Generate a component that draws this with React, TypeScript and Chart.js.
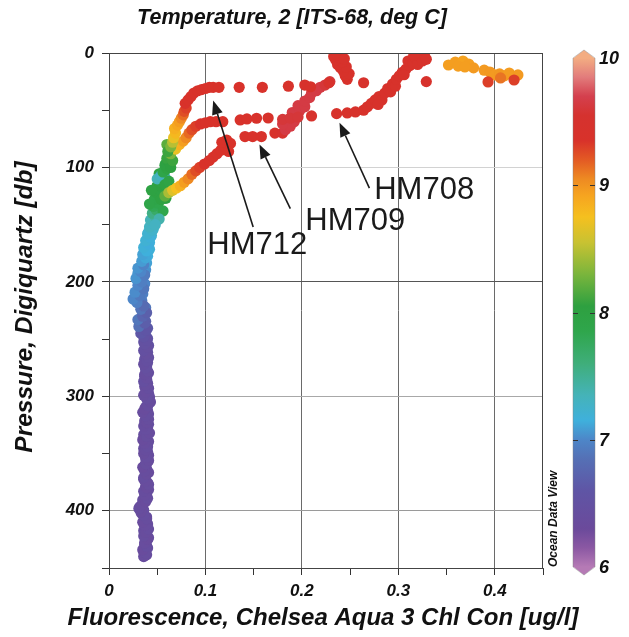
import { useEffect, useRef } from "react";
import { Chart, registerables } from "chart.js";

Chart.register(...registerables);

// ---------- axis ticks ----------
const xMajorTicks = [0, 0.1, 0.2, 0.3, 0.4];
const xTickLabels = ["0", "0.1", "0.2", "0.3", "0.4"];
const xMinorTicks = [0.05, 0.15, 0.25, 0.35, 0.45];
const yMajorTicks = [0, 100, 200, 300, 400];
const yTickLabels = ["0", "100", "200", "300", "400"];
const yMinorTicks = [50, 150, 250, 350, 450];
const colorbarTicks = [6, 7, 8, 9, 10];
const colorbarLabels = ["6", "7", "8", "9", "10"];

// ---------- deep profile, first pass ----------
const deepPressure = [
  440, 437, 434, 431, 428, 425, 422, 419, 416, 413, 410, 407, 404, 401, 398, 395, 392, 389, 386, 383,
  380, 377, 374, 371, 368, 365, 362, 359, 356, 353, 350, 347, 344, 341, 338, 335, 332, 329, 326, 323,
  320, 317, 314, 311, 308, 305, 302, 299, 296, 293, 290, 287, 284, 281, 278, 275, 272, 269, 266, 263,
  260, 257, 254, 251, 248, 245, 242, 239, 236, 233, 230, 227, 224, 221, 218, 215, 212, 209, 206, 203,
  200, 197, 194, 191, 188, 185, 182, 179, 176, 173, 170, 167, 164, 161, 158, 155, 152, 149, 146, 143,
  140, 137, 134, 131, 128, 125, 122, 119, 116, 113, 110, 107, 104, 101, 98, 95, 92, 89,
  132, 138, 120, 115, 127, 145, 150, 112, 100, 94, 86, 83, 80,
];
const deepFluor = [
  0.036, 0.038, 0.035, 0.039, 0.037, 0.04, 0.036, 0.038, 0.041, 0.037, 0.035, 0.039, 0.036, 0.033, 0.031, 0.034, 0.038, 0.04, 0.037, 0.036,
  0.039, 0.041, 0.038, 0.036, 0.039, 0.037, 0.035, 0.038, 0.041, 0.039, 0.036, 0.038, 0.04, 0.037, 0.035, 0.039, 0.042, 0.038, 0.036, 0.039,
  0.041, 0.038, 0.035, 0.037, 0.04, 0.043, 0.039, 0.036, 0.038, 0.041, 0.038, 0.036, 0.039, 0.037, 0.04, 0.038, 0.036, 0.039, 0.041, 0.038,
  0.036, 0.04, 0.037, 0.039, 0.036, 0.033, 0.038, 0.031, 0.037, 0.03, 0.035, 0.039, 0.033, 0.036, 0.029, 0.025, 0.032, 0.027, 0.036, 0.03,
  0.034, 0.028, 0.037, 0.033, 0.03, 0.036, 0.034, 0.038, 0.035, 0.039, 0.036, 0.041, 0.038, 0.043, 0.04, 0.045, 0.042, 0.046, 0.043, 0.048,
  0.045, 0.049, 0.046, 0.05, 0.047, 0.052, 0.049, 0.053, 0.05, 0.055, 0.05, 0.054, 0.056, 0.06, 0.058, 0.062, 0.06, 0.063,
  0.042, 0.056, 0.044, 0.058, 0.059, 0.052, 0.048, 0.062, 0.064, 0.066, 0.064, 0.062, 0.06,
];
const deepTemp = [
  6.38, 6.4, 6.36, 6.42, 6.38, 6.35, 6.4, 6.37, 6.41, 6.38, 6.36, 6.39, 6.42, 6.37, 6.4, 6.38, 6.36, 6.41, 6.38, 6.39,
  6.36, 6.4, 6.38, 6.42, 6.37, 6.39, 6.36, 6.4, 6.38, 6.41, 6.37, 6.39, 6.42, 6.38, 6.36, 6.4, 6.38, 6.41, 6.39, 6.37,
  6.4, 6.42, 6.38, 6.36, 6.41, 6.39, 6.43, 6.4, 6.38, 6.42, 6.4, 6.44, 6.41, 6.39, 6.43, 6.45, 6.42, 6.44, 6.46, 6.43,
  6.47, 6.45, 6.48, 6.5, 6.55, 6.62, 6.6, 6.85, 6.68, 6.9, 6.75, 6.7, 6.88, 6.8, 6.95, 7.0, 6.92, 7.02, 6.9, 7.0,
  6.95, 7.05, 6.93, 7.0, 7.05, 6.98, 7.08, 7.12, 7.1, 7.15, 7.18, 7.14, 7.2, 7.17, 7.22, 7.25, 7.3, 7.28, 7.35, 7.45,
  7.55, 7.7, 7.8, 7.85, 7.9, 7.95, 8.0, 7.98, 8.02, 7.95, 7.35, 7.3, 7.9, 8.0, 8.02, 8.05, 8.08, 8.1,
  7.9, 7.85, 8.0, 8.0, 8.05, 7.4, 7.3, 7.95, 8.05, 8.1, 8.12, 8.15, 8.2,
];

// ---------- deep profile, second pass ----------
const deep2Pressure = [
  438.5, 435.5, 432.5, 429.5, 426.5, 423.5, 420.5, 417.5, 414.5, 411.5, 408.5, 405.5, 402.5, 399.5, 396.5, 393.5, 390.5, 387.5, 384.5, 381.5,
  378.5, 375.5, 372.5, 369.5, 366.5, 363.5, 360.5, 357.5, 354.5, 351.5, 348.5, 345.5, 342.5, 339.5, 336.5, 333.5, 330.5, 327.5, 324.5, 321.5,
  318.5, 315.5, 312.5, 309.5, 306.5, 303.5, 300.5, 297.5, 294.5, 291.5, 288.5, 285.5, 282.5, 279.5, 276.5, 273.5, 270.5, 267.5, 264.5, 261.5,
  258.5, 255.5, 252.5, 249.5, 246.5, 243.5, 240.5, 237.5, 234.5, 231.5, 228.5, 225.5, 222.5, 219.5, 216.5, 213.5, 210.5, 207.5, 204.5, 201.5,
  198.5, 195.5, 192.5, 189.5, 186.5, 183.5, 180.5, 177.5, 174.5, 171.5, 168.5, 165.5, 162.5, 159.5, 156.5, 153.5, 150.5, 147.5, 144.5, 141.5,
  138.5, 135.5, 132.5, 129.5, 126.5, 123.5, 120.5, 117.5, 114.5, 111.5, 108.5, 105.5, 102.5, 99.5, 96.5, 93.5, 90.5,
];
const deep2Fluor = [
  0.039, 0.036, 0.04, 0.037, 0.039, 0.041, 0.039, 0.036, 0.038, 0.04, 0.037, 0.039, 0.034, 0.036, 0.032, 0.036, 0.035, 0.038, 0.039, 0.041,
  0.038, 0.04, 0.036, 0.038, 0.041, 0.039, 0.037, 0.04, 0.038, 0.041, 0.04, 0.036, 0.038, 0.041, 0.038, 0.036, 0.039, 0.04, 0.041, 0.037,
  0.039, 0.041, 0.04, 0.038, 0.041, 0.04, 0.042, 0.041, 0.04, 0.037, 0.04, 0.039, 0.037, 0.041, 0.038, 0.039, 0.04, 0.037, 0.039, 0.04,
  0.038, 0.041, 0.036, 0.04, 0.038, 0.035, 0.04, 0.034, 0.038, 0.033, 0.037, 0.035, 0.038, 0.032, 0.034, 0.029, 0.035, 0.031, 0.033, 0.037,
  0.032, 0.035, 0.03, 0.038, 0.035, 0.039, 0.037, 0.04, 0.038, 0.042, 0.039, 0.042, 0.04, 0.044, 0.041, 0.046, 0.044, 0.047, 0.045, 0.05,
  0.047, 0.051, 0.048, 0.052, 0.05, 0.054, 0.052, 0.056, 0.053, 0.057, 0.058, 0.052, 0.058, 0.061, 0.059, 0.063, 0.062,
];
const deep2Temp = [
  6.39, 6.37, 6.41, 6.38, 6.36, 6.4, 6.38, 6.42, 6.37, 6.39, 6.38, 6.4, 6.37, 6.41, 6.39, 6.36, 6.4, 6.38, 6.42, 6.39,
  6.37, 6.41, 6.38, 6.4, 6.36, 6.39, 6.41, 6.38, 6.4, 6.37, 6.39, 6.42, 6.38, 6.4, 6.37, 6.41, 6.39, 6.38, 6.42, 6.4,
  6.37, 6.41, 6.39, 6.43, 6.4, 6.38, 6.42, 6.41, 6.44, 6.4, 6.42, 6.45, 6.43, 6.41, 6.44, 6.46, 6.44, 6.47, 6.45, 6.48,
  6.47, 6.5, 6.52, 6.58, 6.6, 6.7, 6.65, 6.78, 6.72, 6.85, 6.8, 6.86, 6.9, 6.95, 6.92, 7.0, 6.96, 7.02, 6.98, 7.0,
  7.03, 7.0, 7.06, 7.04, 7.08, 7.1, 7.12, 7.15, 7.13, 7.18, 7.2, 7.16, 7.22, 7.24, 7.28, 7.3, 7.35, 7.4, 7.5, 7.6,
  7.75, 7.82, 7.88, 7.92, 7.96, 8.0, 8.02, 7.98, 8.03, 8.0, 7.3, 8.0, 8.02, 8.05, 8.06, 8.08, 8.1,
];

// ---------- HM712 (upper branch) ----------
const hm712Pressure = [
  86, 82, 78, 74, 70, 66, 63, 60, 57, 54, 51, 48, 44, 41, 38, 35, 33, 32, 31, 30,
  30, 30, 30, 30, 29, 28, 29.5, 26, 23, 20, 18, 16, 13, 12, 10, 8, 6, 4, 3, 1.5, 5,
];
const hm712Fluor = [
  0.061, 0.064, 0.066, 0.067, 0.069, 0.068, 0.071, 0.073, 0.075, 0.077, 0.078, 0.08, 0.079, 0.082, 0.085, 0.088, 0.092, 0.096, 0.1, 0.104,
  0.108, 0.114, 0.135, 0.159, 0.186, 0.203, 0.209, 0.228, 0.247, 0.245, 0.249, 0.243, 0.24, 0.246, 0.237, 0.242, 0.235, 0.239, 0.233, 0.237, 0.244,
];
const hm712Temp = [
  8.1, 8.3, 8.5, 8.7, 8.8, 8.85, 8.9, 8.95, 9.05, 9.15, 9.25, 9.3, 9.35, 9.35, 9.35, 9.35, 9.35, 9.35, 9.35, 9.35,
  9.35, 9.35, 9.38, 9.38, 9.4, 9.4, 9.4, 9.45, 9.4, 9.4, 9.4, 9.4, 9.4, 9.4, 9.4, 9.4, 9.4, 9.4, 9.4, 9.4, 9.4,
];

// ---------- HM709 (lower branch) ----------
const hm709Pressure = [
  128, 125, 122, 120, 118, 116, 113, 110, 106, 103, 100, 97, 94, 91, 88, 85, 82, 78, 76, 79,
  86, 73, 73, 73, 70, 70, 67, 64, 62, 60, 58, 55, 52, 50, 46, 47, 42, 39, 35, 33,
  30, 28, 25, 10.5, 8, 7, 9.6, 13, 11.4, 12.2, 15, 16.6, 19.2, 18.3, 20, 17.5, 19.2, 21.8, 25.3, 23.6,
];
const hm709Fluor = [
  0.054, 0.058, 0.062, 0.066, 0.07, 0.074, 0.078, 0.082, 0.086, 0.09, 0.094, 0.099, 0.104, 0.108, 0.112, 0.116, 0.12, 0.117, 0.122, 0.126,
  0.124, 0.141, 0.149, 0.158, 0.172, 0.18, 0.183, 0.188, 0.18, 0.192, 0.186, 0.195, 0.19, 0.198, 0.196, 0.203, 0.203, 0.208, 0.21, 0.215,
  0.219, 0.224, 0.229, 0.352, 0.359, 0.367, 0.373, 0.378, 0.362, 0.369, 0.389, 0.395, 0.4, 0.405, 0.41, 0.415, 0.424, 0.406, 0.393, 0.42,
];
const hm709Temp = [
  8.0, 8.2, 8.45, 8.65, 8.75, 8.85, 8.95, 9.05, 9.15, 9.25, 9.3, 9.35, 9.35, 9.35, 9.35, 9.35, 9.35, 9.35, 9.35, 9.35,
  9.35, 9.38, 9.38, 9.38, 9.4, 9.5, 9.65, 9.65, 9.65, 9.65, 9.65, 9.65, 9.65, 9.65, 9.65, 9.65, 9.65, 9.65, 9.65, 9.65,
  9.65, 9.6, 9.6, 8.95, 8.95, 8.93, 8.95, 8.97, 8.95, 8.95, 8.97, 8.98, 8.97, 8.98, 8.97, 8.96, 8.97, 9.12, 9.3, 9.3,
];

// ---------- HM708 (middle branch) ----------
const hm708Pressure = [
  88, 84, 80, 77, 74, 70, 67, 64, 62, 61, 60, 60, 60, 58.5, 57.6, 57, 56.8, 58, 57, 56,
  55, 53, 52.4, 51.5, 50, 47, 44, 41, 38, 41, 35, 45, 31, 34, 27, 29, 23, 20, 17, 14,
  19, 11, 7, 9, 5, 10, 3, 7, 2, 5.5, 2, 26, 25,
];
const hm708Fluor = [
  0.064, 0.069, 0.073, 0.077, 0.08, 0.083, 0.086, 0.09, 0.095, 0.1, 0.105, 0.111, 0.118, 0.136, 0.143, 0.153, 0.165, 0.18, 0.188, 0.196,
  0.21, 0.236, 0.247, 0.2555, 0.264, 0.268, 0.272, 0.276, 0.28, 0.283, 0.286, 0.279, 0.289, 0.292, 0.294, 0.297, 0.298, 0.301, 0.304, 0.308,
  0.306, 0.312, 0.31, 0.315, 0.318, 0.32, 0.322, 0.325, 0.327, 0.329, 0.316, 0.264, 0.329,
];
const hm708Temp = [
  8.3, 8.7, 8.85, 8.95, 9.05, 9.15, 9.25, 9.3, 9.35, 9.35, 9.35, 9.35, 9.35, 9.38, 9.38, 9.38, 9.4, 9.6, 9.6, 9.6,
  9.45, 9.4, 9.4, 9.4, 9.4, 9.4, 9.4, 9.4, 9.4, 9.4, 9.4, 9.4, 9.4, 9.4, 9.4, 9.4, 9.4, 9.4, 9.4, 9.4,
  9.4, 9.4, 9.4, 9.4, 9.4, 9.4, 9.4, 9.4, 9.4, 9.4, 9.4, 9.45, 9.45,
];

// ---------- annotations (data coordinates) ----------
const annotationLabels = ["HM712", "HM709", "HM708"];
const labelFluor = [0.102, 0.2035, 0.275];
const labelPressure = [176, 154.6, 127.5];
const arrowTipFluor = [0.108, 0.156, 0.239];
const arrowTipPressure = [41.5, 80, 61];
const arrowTailFluor = [0.1495, 0.188, 0.27];
const arrowTailPressure = [152, 136, 118];

// ---------- colour map (ODV style) ----------
const cmapStops: [number, string][] = [
  [6.0, "#b57ab5"],
  [6.15, "#8b58a3"],
  [6.3, "#6b4a9b"],
  [6.6, "#5f55a5"],
  [6.85, "#5570b5"],
  [7.0, "#4d86c8"],
  [7.15, "#3fb0dc"],
  [7.35, "#45b3b8"],
  [7.6, "#3fae7a"],
  [7.85, "#2fa64c"],
  [8.05, "#2ea040"],
  [8.3, "#7ab53c"],
  [8.55, "#c8c232"],
  [8.75, "#f5c01f"],
  [8.92, "#f6a420"],
  [9.05, "#ee8a22"],
  [9.2, "#e35a24"],
  [9.35, "#d8322a"],
  [9.55, "#d5322f"],
  [9.7, "#d4404e"],
  [9.85, "#e27c7c"],
  [10.0, "#f3ad82"],
];

function hexToRgb(h: string) {
  const n = parseInt(h.slice(1), 16);
  return [(n >> 16) & 255, (n >> 8) & 255, n & 255];
}

function tempColor(t: number) {
  const s = cmapStops;
  if (t <= s[0][0]) return s[0][1];
  if (t >= s[s.length - 1][0]) return s[s.length - 1][1];
  for (let i = 0; i < s.length - 1; i++) {
    const [t0, c0] = s[i];
    const [t1, c1] = s[i + 1];
    if (t >= t0 && t <= t1) {
      const f = (t - t0) / (t1 - t0);
      const a = hexToRgb(c0);
      const b = hexToRgb(c1);
      const r = a.map((v, k) => Math.round(v + (b[k] - v) * f));
      return `rgb(${r[0]},${r[1]},${r[2]})`;
    }
  }
  return s[0][1];
}

const FONT = "'Liberation Sans', Arial, Helvetica, sans-serif";

function buildDataset(name: string, pres: number[], fluor: number[], temp: number[]) {
  const n = Math.min(pres.length, fluor.length, temp.length);
  const data = [];
  const colors = [];
  for (let i = 0; i < n; i++) {
    data.push({ x: fluor[i], y: pres[i] });
    colors.push(tempColor(temp[i]));
  }
  return {
    label: name,
    data,
    backgroundColor: colors,
    borderColor: colors,
    borderWidth: 0,
    pointRadius: 5.6,
    pointHoverRadius: 5.6,
    clip: 0,
  };
}

const isNear = (a: number, b: number) => Math.abs(a - b) < 1e-6;

const framePlugin = {
  id: "frame",
  afterDatasetsDraw(chart: any) {
    const { ctx, chartArea } = chart;
    ctx.save();
    ctx.strokeStyle = "#444";
    ctx.lineWidth = 1;
    ctx.strokeRect(chartArea.left + 0.5, chartArea.top + 0.5, chartArea.right - chartArea.left - 1, chartArea.bottom - chartArea.top);
    ctx.restore();
  },
};

const annotationPlugin = {
  id: "annotations",
  afterDatasetsDraw(chart: any) {
    const { ctx } = chart;
    const xs = chart.scales.x;
    const ys = chart.scales.y;
    ctx.save();
    ctx.strokeStyle = "#1a1a1a";
    ctx.fillStyle = "#1a1a1a";
    ctx.lineWidth = 1.6;
    for (let i = 0; i < annotationLabels.length; i++) {
      const x0 = xs.getPixelForValue(arrowTailFluor[i]);
      const y0 = ys.getPixelForValue(arrowTailPressure[i]);
      const x1 = xs.getPixelForValue(arrowTipFluor[i]);
      const y1 = ys.getPixelForValue(arrowTipPressure[i]);
      const ang = Math.atan2(y1 - y0, x1 - x0);
      const headLen = 14;
      const headHalf = 5.5;
      const bx = x1 - headLen * Math.cos(ang);
      const by = y1 - headLen * Math.sin(ang);
      ctx.beginPath();
      ctx.moveTo(x0, y0);
      ctx.lineTo(bx, by);
      ctx.stroke();
      ctx.beginPath();
      ctx.moveTo(x1, y1);
      ctx.lineTo(bx + headHalf * Math.sin(ang), by - headHalf * Math.cos(ang));
      ctx.lineTo(bx - headHalf * Math.sin(ang), by + headHalf * Math.cos(ang));
      ctx.closePath();
      ctx.fill();
      ctx.font = `31px ${FONT}`;
      ctx.textAlign = "left";
      ctx.textBaseline = "alphabetic";
      ctx.fillText(annotationLabels[i], xs.getPixelForValue(labelFluor[i]), ys.getPixelForValue(labelPressure[i]));
    }
    ctx.restore();
  },
};

const decorPlugin = {
  id: "decor",
  afterDraw(chart: any) {
    const { ctx, chartArea } = chart;
    ctx.save();
    ctx.fillStyle = "#111";
    // top title
    ctx.font = `italic bold 21.5px ${FONT}`;
    ctx.textAlign = "center";
    ctx.textBaseline = "middle";
    ctx.fillText("Temperature, 2 [ITS-68, deg C]", 292, 18);
    // x title
    ctx.font = `italic bold 24px ${FONT}`;
    ctx.fillText("Fluorescence, Chelsea Aqua 3 Chl Con [ug/l]", (chartArea.left + chartArea.right) / 2 - 3, 618);
    // y title
    ctx.save();
    ctx.translate(25, 307);
    ctx.rotate(-Math.PI / 2);
    ctx.font = `italic bold 24.5px ${FONT}`;
    ctx.fillText("Pressure, Digiquartz [db]", 0, 0);
    ctx.restore();

    // colour bar
    const bx0 = 573;
    const bx1 = 595;
    const yTop = 58;
    const yBot = 567;
    const tip = 8;
    const vMin = 6;
    const vMax = 10;
    const vy = (v: number) => yTop + ((vMax - v) / (vMax - vMin)) * (yBot - yTop);
    const grad = ctx.createLinearGradient(0, yTop, 0, yBot);
    for (const [t, c] of cmapStops) {
      grad.addColorStop((vMax - t) / (vMax - vMin), c);
    }
    ctx.fillStyle = grad;
    ctx.fillRect(bx0, yTop, bx1 - bx0, yBot - yTop);
    // end triangles
    ctx.fillStyle = cmapStops[cmapStops.length - 1][1];
    ctx.beginPath();
    ctx.moveTo(bx0, yTop + 0.5);
    ctx.lineTo((bx0 + bx1) / 2, yTop - tip);
    ctx.lineTo(bx1, yTop + 0.5);
    ctx.closePath();
    ctx.fill();
    ctx.fillStyle = cmapStops[0][1];
    ctx.beginPath();
    ctx.moveTo(bx0, yBot - 0.5);
    ctx.lineTo((bx0 + bx1) / 2, yBot + tip);
    ctx.lineTo(bx1, yBot - 0.5);
    ctx.closePath();
    ctx.fill();
    // outline
    ctx.strokeStyle = "rgba(130,130,130,0.55)";
    ctx.lineWidth = 0.8;
    ctx.beginPath();
    ctx.moveTo(bx0, yBot);
    ctx.lineTo(bx0, yTop);
    ctx.lineTo((bx0 + bx1) / 2, yTop - tip);
    ctx.lineTo(bx1, yTop);
    ctx.lineTo(bx1, yBot);
    ctx.lineTo((bx0 + bx1) / 2, yBot + tip);
    ctx.closePath();
    ctx.stroke();
    // ticks & labels
    ctx.fillStyle = "#111";
    ctx.font = `italic bold 18px ${FONT}`;
    ctx.textAlign = "left";
    ctx.textBaseline = "middle";
    ctx.strokeStyle = "#333";
    ctx.lineWidth = 1;
    for (let i = 0; i < colorbarTicks.length; i++) {
      const y = Math.round(vy(colorbarTicks[i])) + 0.5;
      if (colorbarTicks[i] > vMin && colorbarTicks[i] < vMax) {
        ctx.beginPath();
        ctx.moveTo(bx0, y);
        ctx.lineTo(bx0 + 5, y);
        ctx.moveTo(bx1 - 5, y);
        ctx.lineTo(bx1, y);
        ctx.stroke();
      }
      ctx.fillText(colorbarLabels[i], bx1 + 4, y + 1);
    }
    // ODV credit
    ctx.save();
    ctx.translate(554, 567);
    ctx.rotate(-Math.PI / 2);
    ctx.font = `italic bold 12px ${FONT}`;
    ctx.textAlign = "left";
    ctx.textBaseline = "middle";
    ctx.fillText("Ocean Data View", 0, 0);
    ctx.restore();

    ctx.restore();
  },
};

export default function App() {
  const ref = useRef<HTMLCanvasElement | null>(null);

  useEffect(() => {
    if (!ref.current) return;
    const tickFont = { family: FONT, size: 17, weight: "bold" as const, style: "italic" as const };
    const yGridColors: Record<number, string> = { 100: "#d2d2d2", 200: "#555", 300: "#a8a8a8", 400: "#9a9a9a" };

    const chart = new Chart(ref.current, {
      type: "scatter",
      data: {
        datasets: [
          buildDataset("HM712", hm712Pressure, hm712Fluor, hm712Temp),
          buildDataset("HM708", hm708Pressure, hm708Fluor, hm708Temp),
          buildDataset("HM709", hm709Pressure, hm709Fluor, hm709Temp),
          buildDataset("deep-a", deepPressure, deepFluor, deepTemp),
          buildDataset("deep-b", deep2Pressure, deep2Fluor, deep2Temp),
        ],
      },
      options: {
        responsive: false,
        animation: false,
        devicePixelRatio: 1,
        events: [],
        layout: { padding: { left: 0, top: 53, right: 86, bottom: 0 } },
        plugins: {
          legend: { display: false },
          tooltip: { enabled: false },
          title: { display: false },
        },
        scales: {
          x: {
            type: "linear",
            position: "bottom",
            min: 0,
            max: 0.45,
            afterFit: (s: any) => {
              s.height = 69;
            },
            afterBuildTicks: (s: any) => {
              s.ticks = [...xMajorTicks, ...xMinorTicks].sort((a, b) => a - b).map((v) => ({ value: v }));
            },
            ticks: {
              autoSkip: false,
              maxRotation: 0,
              padding: 6,
              color: "#111",
              font: tickFont,
              callback: (v: any) => {
                const idx = xMajorTicks.findIndex((m) => isNear(m, Number(v)));
                return idx >= 0 ? xTickLabels[idx] : "";
              },
            },
            grid: {
              color: (ctx: any) => {
                const v = ctx.tick ? ctx.tick.value : -1;
                return xMajorTicks.some((m) => m > 0 && isNear(m, v)) ? "#6a6a6a" : "rgba(0,0,0,0)";
              },
              tickColor: "#333",
              tickLength: 7,
              lineWidth: 1,
            },
            border: { display: true, color: "#444", width: 1 },
          },
          y: {
            type: "linear",
            reverse: true,
            min: 0,
            max: 450,
            afterFit: (s: any) => {
              s.width = 109;
            },
            afterBuildTicks: (s: any) => {
              s.ticks = [...yMajorTicks, ...yMinorTicks].sort((a, b) => a - b).map((v) => ({ value: v }));
            },
            ticks: {
              autoSkip: false,
              padding: 8,
              color: "#111",
              font: tickFont,
              callback: (v: any) => {
                const idx = yMajorTicks.findIndex((m) => isNear(m, Number(v)));
                return idx >= 0 ? yTickLabels[idx] : "";
              },
            },
            grid: {
              color: (ctx: any) => {
                const v = ctx.tick ? ctx.tick.value : -1;
                return yGridColors[Math.round(v)] && yMajorTicks.some((m) => isNear(m, v)) ? yGridColors[Math.round(v)] : "rgba(0,0,0,0)";
              },
              tickColor: "#333",
              tickLength: 7,
              lineWidth: 1,
            },
            border: { display: true, color: "#444", width: 1 },
          },
        },
      },
      plugins: [framePlugin, annotationPlugin, decorPlugin],
    } as any);

    return () => chart.destroy();
  }, []);

  return (
    <div style={{ position: "fixed", left: 0, top: 0, width: 629, height: 637, background: "#fff" }}>
      <canvas ref={ref} width={629} height={637} style={{ display: "block", width: 629, height: 637 }} />
    </div>
  );
}
